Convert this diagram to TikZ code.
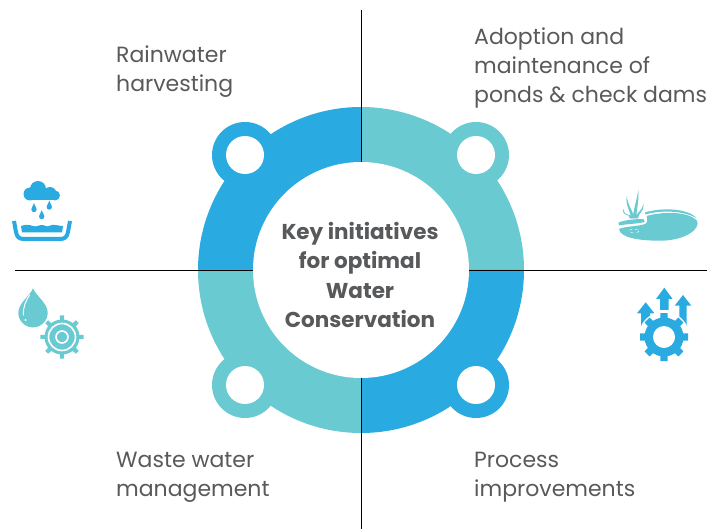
\documentclass[tikz,border=0pt]{standalone}
\usepackage{fontspec}
\setmainfont{Poppins}
\definecolor{bl}{HTML}{29ABE2}
\definecolor{tl}{HTML}{6ACAD1}
\definecolor{txt}{HTML}{58595B}
\tikzset{
  lbl/.style={anchor=north west,align=left,font=\fontsize{22}{29.2}\selectfont,text=txt,inner sep=0pt},
  axis/.style={draw=black,line width=1pt}
}
\begin{document}
\begin{tikzpicture}[x=1pt,y=-1pt]
\useasboundingbox (0,0) rectangle (712,529);
\coordinate (c) at (361,270);
% ring
\fill[bl] (c) -- (361,107) arc[start angle=-90,end angle=-180,radius=163] -- cycle;
\fill[tl] (c) -- (361,107) arc[start angle=-90,end angle=0,radius=163] -- cycle;
\fill[bl] (c) -- (524,270) arc[start angle=0,end angle=90,radius=163] -- cycle;
\fill[tl] (c) -- (361,433) arc[start angle=90,end angle=180,radius=163] -- cycle;
\fill[bl] (245,155) circle[radius=33];
\fill[tl] (476,155) circle[radius=33];
\fill[tl] (245,385) circle[radius=33];
\fill[bl] (476,385) circle[radius=33];
\foreach \p in {(245,155),(476,155),(245,385),(476,385)} \fill[white] \p circle[radius=19];
\coordinate (vt) at (361,10); \coordinate (vb) at (361,529);
\coordinate (hl) at (15,270.4); \coordinate (hr) at (707,270.4);
\draw[axis] (vt) -- (vb);
\draw[axis] (hl) -- (hr);
\fill[white] (c) circle[radius=108];
\node[align=center,font=\fontsize{21.5}{29.3}\selectfont\bfseries,text=txt] (title) at (360,275) {Key initiatives\\for optimal\\Water\\Conservation};
\node[lbl] (a) at (116,45.5) {Rainwater\\harvesting};
\node[lbl] (b) at (474,27.5) {Adoption and\\maintenance of\\ponds \& check dams};
\node[lbl] (d) at (116,452) {Waste water\\management};
\node[lbl] (e) at (474,452) {Process\\improvements};
% rain icon
\fill[bl] (30,194) circle[radius=6.5] (38,189) circle[radius=8] (50,193.5) circle[radius=6.5] (55,195.5) circle[radius=5];
\fill[bl] (30,192) rectangle (55,200.5);
\foreach \x/\y in {34/209.5,49.3/207,41.7/216.5} \fill[bl] (\x,\y-6.5) .. controls (\x+1,\y-3) and (\x+2.7,\y-2) .. (\x+2.7,\y) arc[start angle=0,end angle=180,radius=2.7] .. controls (\x-2.7,\y-2) and (\x-1,\y-3) .. (\x,\y-6.5) -- cycle;
\draw[bl,line width=4pt] (14,221) -- (16,232) .. controls (17,237) and (19,239) .. (24,239) -- (60,239) .. controls (65,239) and (67,237) .. (68,232) -- (70,221);
\fill[bl] (21,226) .. controls (25,224.5) and (29,224.5) .. (33,226) .. controls (37,227.5) and (39,224.5) .. (43,225) .. controls (47,227) and (49,226.5) .. (52,225) .. controls (56,224.5) and (59,226) .. (63,226) -- (62,232.5) -- (22,232.5) -- cycle;
% drop + gear
\fill[tl] (33,288.3) .. controls (36,296) and (47.7,303) .. (47.7,312.7) arc[start angle=0,end angle=180,radius=14.7] .. controls (18.3,303) and (30,296) .. (33,288.3) -- cycle;
\draw[white,line width=1pt,line cap=round] (29.5,295) .. controls (26,301) and (23,306) .. (23.5,315);
\fill[white] (25.5,320) circle[radius=1.1];
\fill[tl] (62,337) circle[radius=17.5];
\foreach \a in {0,45,...,315} \fill[tl,rotate around={\a:(62,337)}] (59,337) -- (60,315.3) -- (64,315.3) -- (65,337) -- cycle;
\draw[white,line width=1.6pt] (62,337) circle[radius=13.5];
\draw[white,line width=1.6pt] (62,337) circle[radius=6];
% pond
\fill[tl] (646.7,216) .. controls (662,211.5) and (688,211) .. (697,220.7) .. controls (701,229) and (685,240.7) .. (660,240.7) .. controls (640,240.7) and (620,238) .. (619,229) .. controls (626,226) and (638,226.5) .. (645,224) .. controls (648,222.5) and (647.5,219) .. (646.7,216) -- cycle;
\fill[tl] (645,212.3) .. controls (662,207.5) and (688,208) .. (696.7,218.3) .. controls (685,211) and (662,209.5) .. (645.5,214.5) -- cycle;
\fill[tl] (618.3,222.7) .. controls (624,220) and (635,219) .. (643.3,219) -- (645,222) .. controls (636,224) and (626,224) .. (619,225.5) -- cycle;
\foreach \tx/\ty/\bx/\wb in {638.3/190/634.5/1.7,626.7/196/632.5/1.5,623.3/208.3/631/1.2,643.3/203.3/636.7/1.4}
  \fill[tl] (\tx,\ty) .. controls (\tx+1,\ty+10) and (\bx+\wb,212) .. (\bx+\wb,218.5) -- (\bx-\wb,218.5) .. controls (\bx-\wb,212) and (\tx-1.5,\ty+10) .. (\tx,\ty) -- cycle;
\draw[white,line width=0.4pt,dashed] (634,231) ellipse (5 and 2);
% arrows + gear
\foreach \x/\y/\hw/\sw/\hh/\yb in {645.7/302.3/8.7/4.5/11/330,664.3/287.7/8.3/4.2/11.3/310,683/295/8.3/3.7/10.7/330}
  \fill[bl] (\x,\y) -- (\x+\hw,\y+\hh) -- (\x+\sw,\y+\hh) -- (\x+\sw,\yb) -- (\x-\sw,\yb) -- (\x-\sw,\y+\hh) -- (\x-\hw,\y+\hh) -- cycle;
\fill[white] (664,337) circle[radius=25.5];
\fill[bl] (664,337) circle[radius=19.5];
\foreach \a in {0,45,...,315} \fill[bl,rotate around={\a:(664,337)}] (659.5,337) -- (660.5,313) -- (667.5,313) -- (668.5,337) -- cycle;
\fill[white] (664,337) circle[radius=11];
\end{tikzpicture}
\end{document}
